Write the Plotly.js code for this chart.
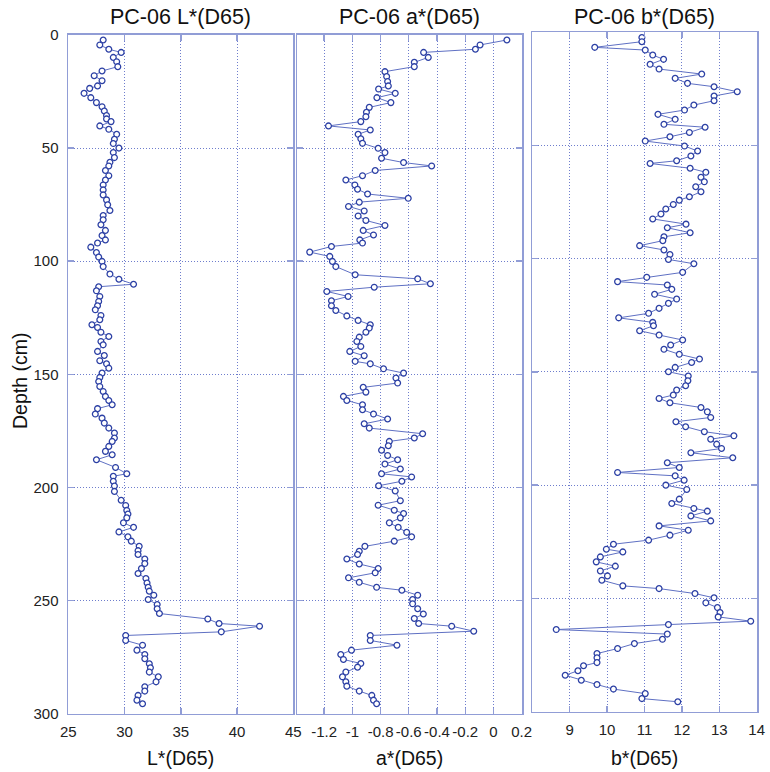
<!DOCTYPE html>
<html><head><meta charset="utf-8">
<script src="https://cdn.plot.ly/plotly-3.0.1.min.js"></script>
<style>html,body{margin:0;padding:0;background:#fff}#chart{width:770px;height:772px}</style>
</head><body><div id="chart"></div>
<script>
// ---- data (depth in cm) ----
const depthL = [2.2,4.4,6.3,7.7,9.9,11.8,14,15.9,18,20.2,22.5,23.6,25.8,27.7,29.9,31.7,33.6,35.6,37.1,38.3,40.2,41.7,43.9,46.1,48,50,52,54.2,56.3,57.9,59.9,62.2,64.1,66.3,68.5,70.7,72.9,75.1,77.6,79.8,81.7,83.9,86.4,88.7,90.6,92,93.8,96.2,98.2,100.1,
102.4,105.7,108,110.2,111.3,113.1,115.6,117.8,119.7,121.5,124,125.9,128.1,129.3,131.4,133.3,135.5,137,139.9,141.7,144,145.4,147.3,149.5,151.4,153.2,155.4,157.6,159.8,161.6,163.5,165.2,167.6,169.4,171.6,173.8,176,178.2,179.7,181.9,184.1,185.6,187.8,191.2,194,195.1,197.3,199.4,201.8,
205.7,208,210.2,211.8,213.5,215.7,217.7,219.7,221.9,223.8,226.1,228,229.7,231.7,233.7,235.9,238.1,240.3,242.3,244.2,245.9,247.7,249.6,251.8,253.7,255.8,258.2,260.2,261.4,263.9,265.5,267.7,269.8,272,273.9,275.8,278,279.8,281.7,283.8,286,288.2,290.1,292,294.1,295.7];
const valL = [28.1,27.8,28.6,29.7,29.0,29.3,29.4,28.0,27.3,28.0,27.6,26.9,26.4,27.0,27.5,28.0,28.2,28.4,28.4,28.8,27.8,28.6,29.3,29.1,29.0,29.5,29.0,29.1,28.7,28.6,28.3,28.6,28.3,28.1,28.1,28.1,28.4,28.5,28.7,28.1,28.1,27.9,28.3,28.0,28.3,27.6,27.0,27.5,27.7,28.0,
28.1,28.7,29.5,30.8,27.7,27.5,27.8,27.7,27.6,27.4,27.9,27.8,27.1,27.6,27.9,28.6,27.9,28.1,27.6,28.2,27.8,28.4,28.6,28.0,27.8,27.7,27.8,28.1,28.3,28.6,28.9,27.6,27.4,28.0,28.2,28.6,29.1,29.1,28.9,28.6,28.3,28.9,27.5,29.2,30.2,29.0,29.0,29.1,29.1,
29.7,30.1,30.2,30.3,30.2,29.9,30.8,29.5,30.3,30.6,31.3,31.2,31.2,31.8,31.8,31.5,31.2,31.9,32.0,32.1,32.2,32.6,32.1,32.9,32.9,33.1,37.4,38.4,42.0,38.6,30.1,30.1,31.6,31.1,31.8,31.8,32.2,32.3,32.2,33.0,32.8,31.8,31.8,31.2,31.1,31.6];

const depthA = [2.2,4.4,6.3,7.7,9.9,12.1,14,16.2,18.4,20.6,22.5,23.9,25.8,27.7,29.9,32,34.2,36.1,38.3,40.2,42,43.9,45.9,47.9,50.1,52,54.5,56.4,57.9,59.9,62.2,64.1,66.3,68.2,70.3,72.2,73.9,75.8,77.8,80,82,84.2,86.4,88.4,90.6,92,93.5,96,97.9,100.1,
102.4,106,107.8,110,111.5,113.4,115.6,117.5,119.7,121.8,124.2,126.2,128.1,129.6,131.4,133.6,135.5,137.7,139.9,141.8,144.3,145.4,147.6,149.5,151.7,153.9,155.8,157.9,159.8,161.6,163.5,165.7,167.6,169.8,171.9,173.8,176.3,178.2,179.7,181.6,183.6,185.9,187.8,189.7,191.9,194,195.4,197.3,199.3,201.6,
205.9,207.9,210.1,211.6,213.5,215.7,217.7,219.9,221.9,223.8,226.1,228.3,229.7,231.7,233.9,235.9,237.8,240,242,244.2,245.5,247.7,249.6,251.5,253.7,256,258,260.2,261.4,263.6,265.5,267.7,269.8,272,273.9,276.1,277.9,279.5,281.7,283.8,286,287.9,290.1,292,294.1,295.7];
const valA = [0.095,-0.095,-0.128,-0.495,-0.462,-0.561,-0.561,-0.769,-0.757,-0.75,-0.745,-0.814,-0.696,-0.826,-0.727,-0.88,-0.9,-0.904,-0.94,-1.169,-0.873,-0.959,-0.94,-0.928,-0.817,-0.769,-0.793,-0.637,-0.438,-0.838,-0.928,-1.046,-0.982,-0.963,-0.892,-0.604,-0.951,-1.027,-0.916,-0.959,-0.904,-0.769,-0.923,-0.85,-0.947,-0.928,-1.148,-1.302,-1.16,-1.141,
-1.117,-0.98,-0.537,-0.447,-0.845,-1.181,-1.03,-1.148,-1.148,-1.117,-1.039,-0.959,-0.873,-0.88,-0.904,-0.951,-0.968,-0.94,-1.018,-0.916,-0.98,-0.873,-0.779,-0.637,-0.691,-0.679,-0.923,-0.904,-1.063,-1.039,-0.928,-0.928,-0.85,-0.75,-0.916,-0.88,-0.502,-0.561,-0.738,-0.745,-0.793,-0.75,-0.679,-0.769,-0.66,-0.793,-0.58,-0.649,-0.814,-0.696,
-0.66,-0.817,-0.703,-0.637,-0.66,-0.738,-0.675,-0.615,-0.58,-0.703,-0.911,-0.951,-0.963,-1.039,-0.951,-0.817,-0.838,-1.027,-0.951,-0.828,-0.649,-0.537,-0.573,-0.573,-0.537,-0.497,-0.561,-0.53,-0.296,-0.14,-0.873,-0.873,-0.684,-1.006,-1.082,-1.063,-0.94,-0.963,-1.046,-1.07,-1.046,-1.039,-0.951,-0.862,-0.85,-0.828];

const depthB = [2.3,4.1,6.6,7.8,10,11.9,14.1,16.2,18.4,20.3,22.5,24,26.2,28.1,30.2,32.1,34.3,36.2,38.4,40.6,41.9,44.2,46.1,48,50.2,52.4,54.6,56.7,57.9,60,61.8,64,66,68.2,70.4,72.6,74.1,76,78,80.2,82.4,84.7,86.3,88.5,90.3,92,94.2,96.1,98.1,100.3,
102.2,106,108.2,110.1,111.6,113.5,115.7,117.8,119.7,121.9,124.1,126.1,128.1,129.6,131.8,133.7,135.9,138.1,140,142.2,144.3,145.8,148,149.9,151.8,153.9,156.1,158,160.2,161.7,163.6,165.7,167.6,170.1,172,174.2,176.4,178.2,179.7,181.9,183.8,185.7,187.9,190.1,192.2,194.4,195.9,197.8,200,201.9,
206.2,208.1,210.3,211.5,213.6,215.8,218,219.9,222.1,224.3,226.1,228.3,229.5,231.7,233.9,235.8,237.9,240.1,242,244.5,245.7,247.9,249.8,252,254.1,256.3,258.2,260.1,261.6,263.8,265.8,268.1,270,272.2,274.4,276.3,278.4,279.8,282,284,286.2,288.1,290.1,292.1,294.3,295.7];
const valB = [10.93,10.93,9.67,11.02,11.22,11.51,11.15,11.39,12.53,11.82,12.15,12.86,13.48,12.86,12.86,12.32,12.07,11.36,11.82,11.52,12.62,12.2,11.68,11.02,12.07,12.42,12.24,11.86,11.15,12.22,12.64,12.51,12.6,12.37,12.51,12.2,11.93,11.77,11.57,11.44,11.22,12.11,11.61,12.22,11.52,11.49,10.87,11.52,11.68,11.64,
12.32,12.02,11.06,10.28,11.61,11.73,11.27,11.86,11.64,11.39,11.11,10.31,11.22,11.24,10.87,11.39,12.02,11.7,11.52,11.93,12.47,12.26,11.82,11.64,12.17,12.16,12.1,11.86,11.77,11.39,11.68,12.51,12.68,12.77,11.84,12.1,12.6,13.39,12.77,12.93,13.06,12.24,13.36,11.61,11.93,10.28,11.82,12.06,11.57,12.13,
11.93,11.73,12.32,12.68,12.24,12.77,11.39,12.17,11.68,11.11,10.17,9.98,10.42,9.82,9.71,10.22,9.82,10.01,9.86,10.42,11.39,12.35,12.86,12.64,12.95,13.02,12.97,13.84,11.64,8.64,11.61,11.48,10.73,10.28,9.73,9.73,9.73,9.37,9.22,8.88,9.31,9.73,10.17,11.02,10.93,11.89];

const titles = ['PC-06 L*(D65)', 'PC-06 a*(D65)', 'PC-06 b*(D65)'];
const xLabels = ['L*(D65)', 'a*(D65)', 'b*(D65)'];
const yLabel = 'Depth (cm)';
const ticksL = [25, 30, 35, 40, 45];
const ticksA = [-1.2, -1, -0.8, -0.6, -0.4, -0.2, 0, 0.2];
const ticksB = [9, 10, 11, 12, 13, 14];
const ticksDepth = [0, 50, 100, 150, 200, 250, 300];

// ---- styling ----
const W = 770, H = 772;
const FONT = 'Liberation Sans, Arial, sans-serif';
const frameCol = 'rgb(145,157,214)';
const gridCol = 'rgb(110,125,205)';
const lineCol = 'rgb(95,112,195)';
const mkCol = 'rgb(45,65,165)';

function px2x(p) { return p / W; }
function px2y(p) { return (H - p) / H; }

function trace(x, y, xa, ya) {
  return {
    x: x, y: y, xaxis: xa, yaxis: ya, type: 'scatter', mode: 'lines+markers',
    line: {color: lineCol, width: 1},
    marker: {symbol: 'circle', size: 5.8, color: 'white', line: {color: mkCol, width: 1.3}},
    hoverinfo: 'x+y', showlegend: false
  };
}

function xaxis(dom, range, ticks, anchor) {
  return {
    domain: dom, range: range, anchor: anchor, tickmode: 'array', tickvals: ticks,
    ticktext: ticks.map(String), tickangle: 0, showline: true, linecolor: frameCol, linewidth: 1.8,
    mirror: 'ticks', ticks: 'inside', ticklen: 6, tickwidth: 1.4, tickcolor: frameCol,
    showgrid: true, gridcolor: gridCol, griddash: '1px,2px', gridwidth: 1, zeroline: false,
    tickfont: {family: FONT, size: 15, color: '#222'}, ticklabelstandoff: 4
  };
}
function yaxis(dom, anchor, showLabels) {
  return {
    domain: dom, range: [300, 0], anchor: anchor, tickmode: 'array', tickvals: ticksDepth,
    showticklabels: showLabels, showline: true, linecolor: frameCol, linewidth: 1.8,
    mirror: 'ticks', ticks: 'inside', ticklen: 6, tickwidth: 1.4, tickcolor: frameCol,
    showgrid: true, gridcolor: gridCol, griddash: '1px,2px', gridwidth: 1, zeroline: false,
    tickfont: {family: FONT, size: 15, color: '#222'}, ticklabelstandoff: 5
  };
}

const p1 = [68.3, 293.3], p2 = [297.3, 521.7], p3 = [532.3, 756.7];
const yd12 = [px2y(713.5), px2y(35)];
const yd3 = [px2y(711.5), px2y(32.4)];

const data = [
  trace(valL, depthL, 'x', 'y'),
  trace(valA, depthA, 'x2', 'y2'),
  trace(valB, depthB, 'x3', 'y3')
];

const centers = [p1, p2, p3].map(p => px2x((p[0] + p[1]) / 2));
const annotations = [];
titles.forEach((t, i) => annotations.push({
  text: t, xref: 'paper', yref: 'paper', x: centers[i], y: px2y(17.5),
  xanchor: 'center', yanchor: 'middle', showarrow: false,
  font: {family: FONT, size: 21.5, color: '#111'}
}));
xLabels.forEach((t, i) => annotations.push({
  text: t, xref: 'paper', yref: 'paper', x: centers[i], y: px2y(758),
  xanchor: 'center', yanchor: 'middle', showarrow: false,
  font: {family: FONT, size: 19.5, color: '#111'}
}));
annotations.push({
  text: yLabel, xref: 'paper', yref: 'paper', x: px2x(20), y: px2y(381),
  xanchor: 'center', yanchor: 'middle', showarrow: false, textangle: -90,
  font: {family: FONT, size: 19.5, color: '#111'}
});

const layout = {
  width: W, height: H, margin: {l: 0, r: 0, t: 0, b: 0},
  paper_bgcolor: 'white', plot_bgcolor: 'white', showlegend: false,
  xaxis: xaxis([px2x(p1[0]), px2x(p1[1])], [25, 45], ticksL, 'y'),
  xaxis2: xaxis([px2x(p2[0]), px2x(p2[1])], [-1.39, 0.2], ticksA, 'y2'),
  xaxis3: xaxis([px2x(p3[0]), px2x(p3[1])], [8, 14], ticksB, 'y3'),
  yaxis: yaxis(yd12, 'x', true),
  yaxis2: yaxis(yd12, 'x2', false),
  yaxis3: yaxis(yd3, 'x3', false),
  annotations: annotations
};

Plotly.newPlot('chart', data, layout, {staticPlot: true, displayModeBar: false});
</script></body></html>
